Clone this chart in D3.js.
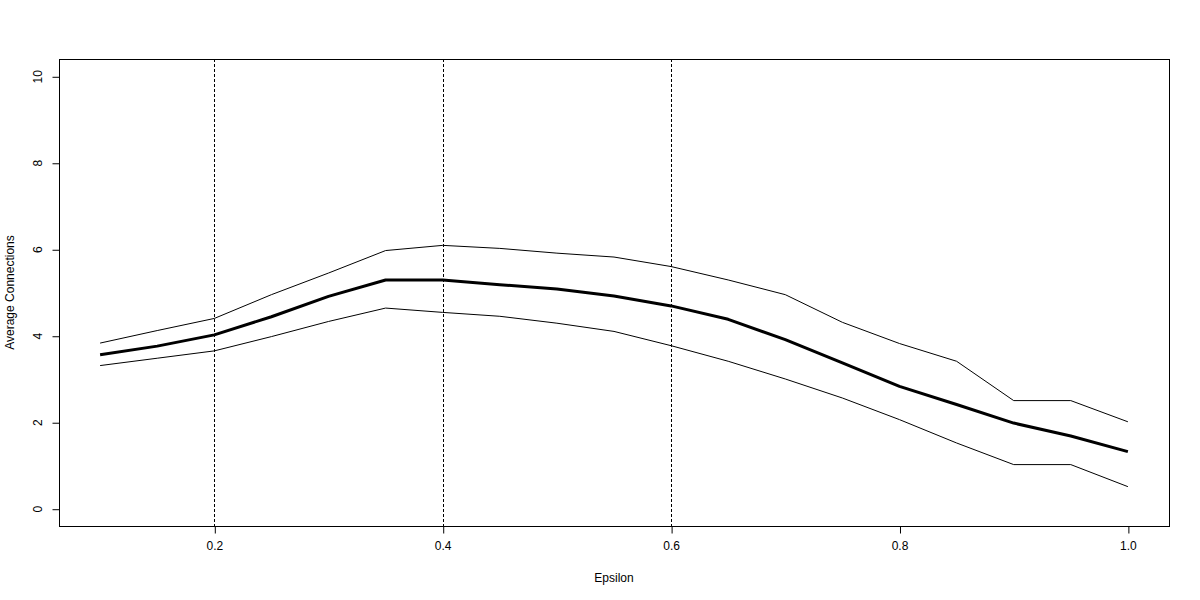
<!DOCTYPE html>
<html><head><meta charset="utf-8">
<script src="https://cdn.jsdelivr.net/npm/d3@7/dist/d3.min.js"></script>
<style>body{margin:0;background:#fff}svg{display:block}text{font-family:"Liberation Sans",Arial,sans-serif;fill:#000}</style>
</head><body><svg id="c" width="1200" height="600"></svg>
<script>
const epsilon = [0.1,0.15,0.2,0.25,0.3,0.35,0.4,0.45,0.5,0.55,0.6,0.65,0.7,0.75,0.8,0.85,0.9,0.95,1.0];
const meanConn = [3.56,3.76,4.02,4.44,4.91,5.29,5.29,5.18,5.08,4.92,4.69,4.38,3.91,3.37,2.83,2.41,1.98,1.68,1.32];
const upperConn = [3.83,4.12,4.40,4.95,5.45,5.97,6.09,6.02,5.91,5.82,5.60,5.29,4.95,4.31,3.82,3.41,2.50,2.50,2.01];
const lowerConn = [3.31,3.48,3.65,3.98,4.33,4.64,4.54,4.45,4.29,4.10,3.77,3.41,3.00,2.56,2.06,1.52,1.02,1.02,0.51];
const xTicks = [0.2,0.4,0.6,0.8,1.0];
const yTicks = [0,2,4,6,8,10];
const vLines = [0.2,0.4,0.6];

const svg = d3.select("#c");
const L=59,R=1169,T=59,B=526;
const x = d3.scaleLinear().domain([0.064,1.036]).range([L,R]);
const y = d3.scaleLinear().domain([-0.4,10.4]).range([B,T]);

// vertical dotted lines
svg.selectAll(".vl").data(vLines).join("line")
  .attr("x1",d=>Math.round(x(d))+0.5).attr("x2",d=>Math.round(x(d))+0.5)
  .attr("y1",T).attr("y2",B)
  .attr("stroke","#000").attr("stroke-width",1).attr("stroke-dasharray","3,2");

const line = d3.line().x((d,i)=>x(epsilon[i])).y(d=>y(d));
[[upperConn,1],[lowerConn,1],[meanConn,3]].forEach(([s,w])=>{
  svg.append("path").datum(s).attr("d",line).attr("fill","none")
    .attr("stroke","#000").attr("stroke-width",w).attr("stroke-linejoin","round");
});

// box
svg.append("rect").attr("x",L+0.5).attr("y",T+0.5).attr("width",R-L).attr("height",B-T)
  .attr("fill","none").attr("stroke","#000").attr("stroke-width",1);

// x axis
const xa = svg.append("g").attr("transform",`translate(0,${B+0.5})`)
  .call(d3.axisBottom(x).tickValues(xTicks).tickFormat(d3.format(".1f")).tickSizeOuter(0).tickSize(7).tickPadding(8));
xa.select(".domain").attr("d",`M${x(0.2)},0H${x(1.0)}`);
xa.selectAll("text").attr("font-size",12).attr("font-family","Liberation Sans, Arial, sans-serif");
xa.selectAll(".tick line").attr("transform","translate(0.5,0)");

// y axis
const ya = svg.append("g").attr("transform",`translate(${L+0.5},0)`)
  .call(d3.axisLeft(y).tickValues(yTicks).tickSizeOuter(0).tickSize(7).tickFormat(d3.format("d")));
ya.select(".domain").attr("d",`M0,${y(0)}V${y(10)}`);
ya.selectAll(".tick line").attr("transform","translate(0,0.5)");
ya.selectAll(".tick text").attr("x",null).attr("dy",null)
  .attr("transform","translate(-22,0) rotate(-90)").attr("text-anchor","middle").attr("dy","0.35em")
  .attr("font-size",12).attr("font-family","Liberation Sans, Arial, sans-serif");

svg.append("text").attr("x",(L+R)/2).attr("y",582).attr("text-anchor","middle")
  .attr("font-size",12).text("Epsilon");
svg.append("text").attr("transform",`translate(14,${(T+B)/2}) rotate(-90)`).attr("text-anchor","middle")
  .attr("font-size",12).text("Average Connections");
</script></body></html>
